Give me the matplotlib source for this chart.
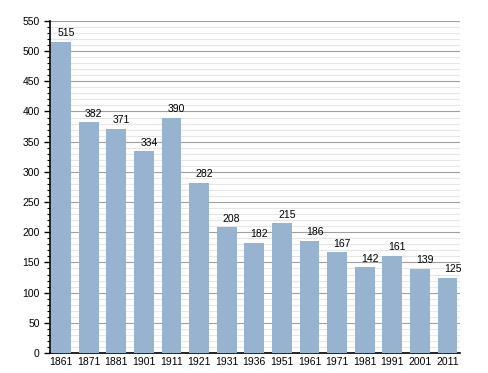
import numpy as np
import matplotlib.pyplot as plt

plt.rcParams["font.family"] = ["Liberation Sans", "DejaVu Sans"]

years = ["1861", "1871", "1881", "1901", "1911", "1921", "1931", "1936",
         "1951", "1961", "1971", "1981", "1991", "2001", "2011"]
population = [515, 382, 371, 334, 390, 282, 208, 182, 215, 186, 167, 142, 161, 139, 125]

fig = plt.figure(figsize=(4.88, 3.73), dpi=100)
ax = fig.add_axes([0.1025, 0.0536, 0.84, 0.8904])

x = np.arange(len(years))
ax.bar(x, population, width=0.72, color="#98b3cf", zorder=3)
for xi, v in zip(x, population):
    ax.text(xi + 0.18, v + 6, str(v), ha="center", va="bottom", fontsize=7.5, zorder=4)

ax.set_ylim(0, 550)
ax.set_xlim(-0.4, len(years) - 0.55)
ax.set_yticks(np.arange(0, 551, 50))
ax.set_yticks(np.arange(0, 551, 10), minor=True)
ax.set_xticks(x)
ax.set_xticklabels(years)
ax.tick_params(axis="both", labelsize=7.5, length=4, width=1)
ax.tick_params(axis="y", which="minor", length=2.5, width=0.8)
ax.tick_params(axis="x", length=0, pad=3)
ax.grid(axis="y", which="major", color="#a0a0a0", linewidth=0.8, zorder=0)
ax.grid(axis="y", which="minor", color="#e6e6e6", linewidth=0.8, zorder=0)
for s in ["top", "right"]:
    ax.spines[s].set_visible(False)
ax.spines["left"].set_linewidth(1.2)
ax.spines["bottom"].set_linewidth(1.2)

plt.savefig("out.png", dpi=100)
